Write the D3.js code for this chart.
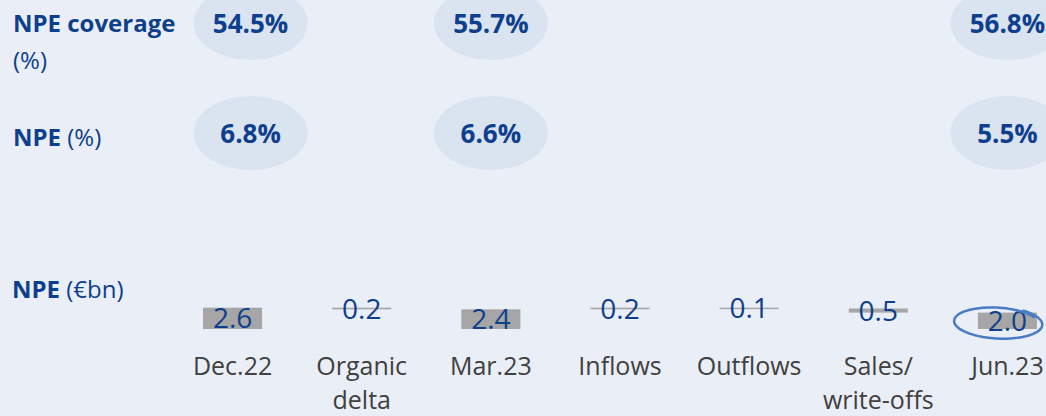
<!DOCTYPE html>
<html>
<head>
<meta charset="utf-8">
<script src="https://cdn.jsdelivr.net/npm/d3@7"></script>
<style>
  html, body { margin: 0; padding: 0; background: #eaeef7; }
  svg { display: block; font-family: "Open Sans", sans-serif; }
</style>
</head>
<body>
<svg id="chart" width="1046" height="416"></svg>
<script>
// waterfall categories and values (€bn)
var categories = ["Dec.22", "Organic delta", "Mar.23", "Inflows", "Outflows", "Sales/ write-offs", "Jun.23"];
var catLines = [["Dec.22"], ["Organic", "delta"], ["Mar.23"], ["Inflows"], ["Outflows"], ["Sales/", "write-offs"], ["Jun.23"]];
var npeValues = [2.6, -0.2, 2.4, 0.2, -0.1, -0.5, 2.0];
var isTotal = [true, false, true, false, false, false, true];

// KPI rows above the chart
var kpiCats = ["Dec.22", "Mar.23", "Jun.23"];
var coverage = [54.5, 55.7, 56.8];
var npeRatio = [6.8, 6.6, 5.5];

var svg = d3.select("#chart");
var blue = "#0e3f8c";

var x = d3.scaleBand()
    .domain(categories)
    .range([168, 1072])
    .paddingInner(0.543)
    .paddingOuter(0.2715);

var y = d3.scaleLinear()
    .domain([0, 3])
    .range([329, 304.4]);

// build waterfall steps
var running = 0;
var bars = categories.map(function (c, i) {
    var v = npeValues[i], start, end;
    if (isTotal[i]) {
        start = 0; end = v; running = v;
    } else {
        start = running; end = running + v; running = end;
    }
    return {cat: c, value: v, start: start, end: end, total: isTotal[i]};
});

// row labels
var rowLabels = svg.append("g").attr("fill", blue).style("font-size", "24px");
var t1 = rowLabels.append("text").attr("x", 13).attr("y", 32);
t1.append("tspan").style("font-weight", "bold").text("NPE coverage");
rowLabels.append("text").attr("x", 13).attr("y", 69).text("(%)");
var t2 = rowLabels.append("text").attr("x", 13).attr("y", 146);
t2.append("tspan").style("font-weight", "bold").text("NPE");
t2.append("tspan").text(" (%)");
var t3 = rowLabels.append("text").attr("x", 12).attr("y", 298);
t3.append("tspan").style("font-weight", "bold").text("NPE");
t3.append("tspan").text(" (€bn)");

// kpi bubbles
function kpiRow(values, cy) {
    var g = svg.append("g");
    g.selectAll("ellipse")
        .data(values)
        .enter().append("ellipse")
        .attr("cx", function (d, i) { return x(kpiCats[i]) + x.bandwidth() / 2 + (i === 0 ? 18 : 0); })
        .attr("cy", cy)
        .attr("rx", 57)
        .attr("ry", 37)
        .attr("fill", "#dae3f0");
    g.selectAll("text")
        .data(values)
        .enter().append("text")
        .attr("x", function (d, i) { return x(kpiCats[i]) + x.bandwidth() / 2 + (i === 0 ? 18 : 0); })
        .attr("y", cy + 10)
        .attr("text-anchor", "middle")
        .attr("fill", blue)
        .style("font-size", "26px")
        .style("font-weight", "bold")
        .text(function (d) { return d.toFixed(1) + "%"; });
}
kpiRow(coverage, 23);
kpiRow(npeRatio, 133);

// bars
svg.append("g").selectAll("rect")
    .data(bars)
    .enter().append("rect")
    .attr("x", function (d) { return x(d.cat); })
    .attr("width", x.bandwidth())
    .attr("y", function (d) { return Math.min(y(d.start), y(d.end)); })
    .attr("height", function (d) { return Math.max(1.5, Math.abs(y(d.start) - y(d.end))); })
    .attr("fill", "#a6a6a6");

// value labels
svg.append("g").selectAll("text")
    .data(bars)
    .enter().append("text")
    .attr("x", function (d) { return x(d.cat) + x.bandwidth() / 2; })
    .attr("y", function (d) { return (y(d.start) + y(d.end)) / 2 + 10; })
    .attr("text-anchor", "middle")
    .attr("fill", blue)
    .style("font-size", "28px")
    .text(function (d) { return Math.abs(d.value).toFixed(1); });

// category axis
var xAxis = svg.append("g")
    .attr("transform", "translate(0,357)")
    .call(d3.axisBottom(x).tickSize(0).tickPadding(0));
xAxis.select(".domain").remove();
xAxis.selectAll("text")
    .attr("fill", "#404040")
    .attr("y", 18)
    .attr("dy", null)
    .style("font-size", "25px")
    .style("font-family", "Open Sans")
    .text(null)
    .each(function (d, i) {
        var t = d3.select(this);
        catLines[i].forEach(function (line, j) {
            t.append("tspan").attr("x", 0).attr("dy", j === 0 ? 0 : 34).text(line);
        });
    });

// hand drawn highlight round Jun.23
var last = bars[bars.length - 1];
var hx = x(last.cat) + x.bandwidth() / 2 - 10;
var hy = (y(last.start) + y(last.end)) / 2 + 2;
var pts = d3.range(0.15 * Math.PI, 2.32 * Math.PI, 0.05).map(function (t, k, arr) {
    var grow = 1 + 0.08 * (k / arr.length);
    return [hx + 42 * grow * Math.cos(t), hy - 15 * grow * Math.sin(t) + 2 * Math.cos(t)];
});
svg.append("path")
    .attr("d", d3.line().curve(d3.curveBasis)(pts))
    .attr("fill", "none")
    .attr("stroke", "#4a7bc4")
    .attr("stroke-width", 2.5);
</script>
</body>
</html>
